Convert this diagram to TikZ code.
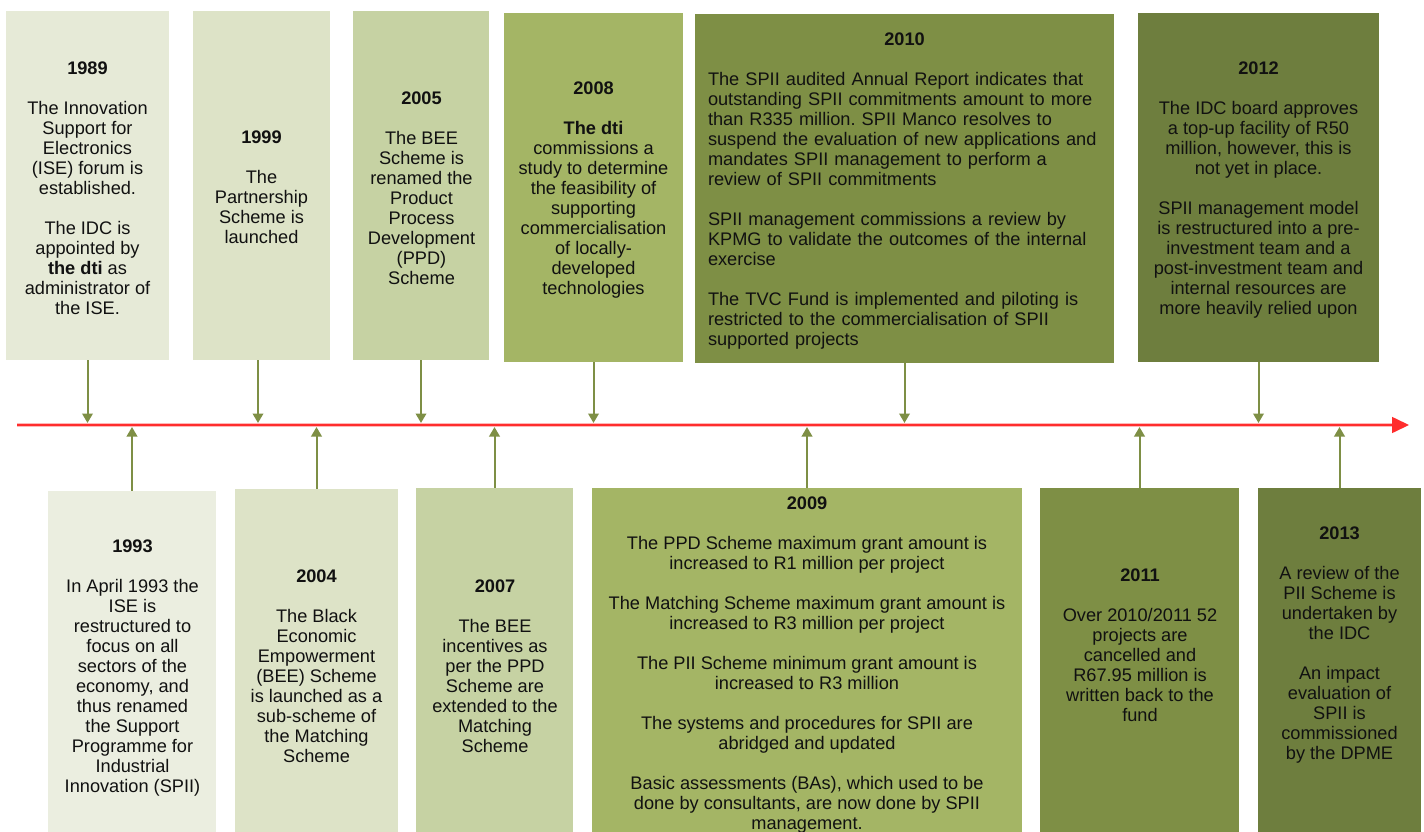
\documentclass[tikz,border=0pt]{standalone}
\usepackage{fontspec}
\setmainfont{Liberation Sans}
\usetikzlibrary{arrows.meta}
\frenchspacing
\definecolor{cA}{HTML}{E6EAD7}
\definecolor{cAb}{HTML}{EBEEE0}
\definecolor{cB}{HTML}{DDE3C7}
\definecolor{cC}{HTML}{C6D2A3}
\definecolor{cD}{HTML}{A4B565}
\definecolor{cE}{HTML}{7E8F45}
\definecolor{cF}{HTML}{6E7E3E}
\definecolor{arrc}{HTML}{7E8F45}
\definecolor{redl}{HTML}{FF2D2D}
\definecolor{redh}{HTML}{FFB8B8}
\definecolor{txtc}{HTML}{111111}
\begin{document}
\begin{tikzpicture}[x=1pt,y=-1pt,
  box/.style={rectangle, inner sep=0pt, draw=none},
  txt/.style={inner sep=0pt, align=center, text=txtc, font=\fontsize{18.2pt}{20pt}\selectfont},
  conn/.style={draw=arrc, line width=2pt, -{Triangle[width=10.5pt,length=9.5pt]}, shorten >=2pt},
]
\useasboundingbox[fill=white] (0,0) rectangle (1424,832);
\begin{scope}
\clip (0,0) rectangle (1424,832);
% top boxes
\node[box, fill=cA, minimum width=163pt, minimum height=349pt] (b1989) at (87.5,185.5) {};
\node[box, fill=cB, minimum width=137pt, minimum height=349pt] (b1999) at (261.5,185.5) {};
\node[box, fill=cC, minimum width=136pt, minimum height=349pt] (b2005) at (421,185.5) {};
\node[box, fill=cD, minimum width=179pt, minimum height=349pt] (b2008) at (593.5,187.5) {};
\node[box, fill=cE, minimum width=419pt, minimum height=349pt] (b2010) at (904.5,188.5) {};
\node[box, fill=cF, minimum width=241pt, minimum height=349pt] (b2012) at (1258.5,187.5) {};
% bottom boxes
\node[box, fill=cAb, minimum width=168pt, minimum height=351pt] (b1993) at (132,666.5) {};
\node[box, fill=cB, minimum width=163pt, minimum height=353pt] (b2004) at (316.5,665.5) {};
\node[box, fill=cC, minimum width=157pt, minimum height=354pt] (b2007) at (494.5,665) {};
\node[box, fill=cD, minimum width=430pt, minimum height=354pt] (b2009) at (807,665) {};
\node[box, fill=cE, minimum width=199pt, minimum height=354pt] (b2011) at (1139.5,665) {};
\node[box, fill=cF, minimum width=163pt, minimum height=354pt] (b2013) at (1339.5,665) {};
\end{scope}

% timeline
\coordinate (tlA) at (17,425);
\coordinate (tlB) at (1409,425);
\draw[redh, line width=4pt] (tlA) -- ([xshift=-16pt]tlB);
\draw[redl, line width=1.6pt, -{Triangle[width=16pt,length=17pt]}] (tlA) -- (tlB);

% connectors
\draw[conn] (b1989.south) -- (b1989.south |- tlA);
\draw[conn] ([xshift=-3.5pt]b1999.south) -- ([xshift=-3.5pt]b1999.south |- tlA);
\draw[conn] (b2005.south) -- (b2005.south |- tlA);
\draw[conn] (b2008.south) -- (b2008.south |- tlA);
\draw[conn] (b2010.south) -- (b2010.south |- tlA);
\draw[conn] (b2012.south) -- (b2012.south |- tlA);
\draw[conn] (b1993.north) -- (b1993.north |- tlA);
\draw[conn] (b2004.north) -- (b2004.north |- tlA);
\draw[conn] (b2007.north) -- (b2007.north |- tlA);
\draw[conn] (b2009.north) -- (b2009.north |- tlA);
\draw[conn] (b2011.north) -- (b2011.north |- tlA);
\draw[conn] (b2013.north) -- (b2013.north |- tlA);

% texts top
\node[txt] (t1989) at (87.5,188) {\textbf{1989}\\[20pt]The Innovation\\Support for\\Electronics\\(ISE) forum is\\established.\\[20pt]The IDC is\\appointed by\\\textbf{the dti} as\\administrator of\\the ISE.};
\node[txt] (t1999) at (261.5,187.5) {\textbf{1999}\\[20pt]The\\Partnership\\Scheme is\\launched};
\node[txt] (t2005) at (421.5,188) {\textbf{2005}\\[20pt]The BEE\\Scheme is\\renamed the\\Product\\Process\\Development\\(PPD)\\Scheme};
\node[txt] (t2008) at (593.5,190.5) {\textbf{2008}\\[20pt]\textbf{The dti}\\commissions a\\study to determine\\the feasibility of\\supporting\\commercialisation\\of locally-\\developed\\technologies};
\node[txt, align=left, text width=405pt] (t2010) at (910.5,191) {\makebox[393pt]{\textbf{2010}}\\[20pt]The SPII audited Annual Report indicates that\\outstanding SPII commitments amount to more\\than R335 million. SPII Manco resolves to\\suspend the evaluation of new applications and\\mandates SPII management to perform a\\review of SPII commitments\\[20pt]SPII management commissions a review by\\KPMG to validate the outcomes of the internal\\exercise\\[20pt]The TVC Fund is implemented and piloting is\\restricted to the commercialisation of SPII\\supported projects};
\node[txt] (t2012) at (1258.5,190) {\textbf{2012}\\[20pt]The IDC board approves\\a top-up facility of R50\\million, however, this is\\not yet in place.\\[20pt]SPII management model\\is restructured into a pre-\\investment team and a\\post-investment team and\\internal resources are\\more heavily relied upon};

% texts bottom
\node[txt] (t1993) at (132.5,668) {\textbf{1993}\\[20pt]In April 1993 the\\ISE is\\restructured to\\focus on all\\sectors of the\\economy, and\\thus renamed\\the Support\\Programme for\\Industrial\\Innovation (SPII)};
\node[txt] (t2004) at (316.5,666) {\textbf{2004}\\[20pt]The Black\\Economic\\Empowerment\\(BEE) Scheme\\is launched as a\\sub-scheme of\\the Matching\\Scheme};
\node[txt] (t2007) at (495,666) {\textbf{2007}\\[20pt]The BEE\\incentives as\\per the PPD\\Scheme are\\extended to the\\Matching\\Scheme};
\node[txt] (t2009) at (807,665) {\textbf{2009}\\[20pt]The PPD Scheme maximum grant amount is\\increased to R1 million per project\\[20pt]The Matching Scheme maximum grant amount is\\increased to R3 million per project\\[20pt]The PII Scheme minimum grant amount is\\increased to R3 million\\[20pt]The systems and procedures for SPII are\\abridged and updated\\[20pt]Basic assessments (BAs), which used to be\\done by consultants, are now done by SPII\\management.};
\node[txt] (t2011) at (1140,645) {\textbf{2011}\\[20pt]Over 2010/2011 52\\projects are\\cancelled and\\R67.95 million is\\written back to the\\fund};
\node[txt] (t2013) at (1339.5,645) {\textbf{2013}\\[20pt]A review of the\\PII Scheme is\\undertaken by\\the IDC\\[20pt]An impact\\evaluation of\\SPII is\\commissioned\\by the DPME};
\end{tikzpicture}
\end{document}
